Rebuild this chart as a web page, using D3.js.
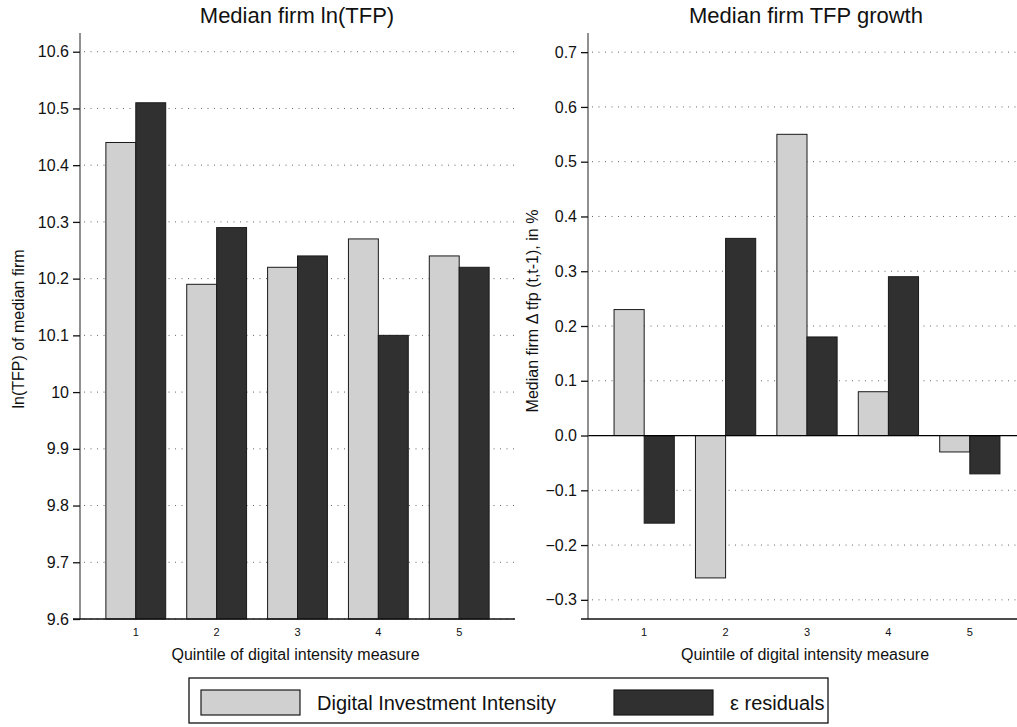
<!DOCTYPE html>
<head>
<meta charset="utf-8">
<style>
    body { margin: 0; background: #fff; }
    text { font-family: Arial, "Liberation Sans", sans-serif; fill: #111; }
</style>
</head>
<body>
<script src="https://d3js.org/d3.v7.min.js"></script>
<script>

// data
const quintiles = ['1', '2', '3', '4', '5'];
const seriesNames = ['Digital Investment Intensity', 'ε residuals'];
const lnTfpDigital = [10.44, 10.19, 10.22, 10.27, 10.24];
const lnTfpResid = [10.51, 10.29, 10.24, 10.10, 10.22];
const growthDigital = [0.23, -0.26, 0.55, 0.08, -0.03];
const growthResid = [-0.16, 0.36, 0.18, 0.29, -0.07];
const leftTicks = [9.6, 9.7, 9.8, 9.9, 10, 10.1, 10.2, 10.3, 10.4, 10.5, 10.6];
const leftTickLabels = ['9.6', '9.7', '9.8', '9.9', '10', '10.1', '10.2', '10.3', '10.4', '10.5', '10.6'];
const rightTicks = [-0.3, -0.2, -0.1, 0, 0.1, 0.2, 0.3, 0.4, 0.5, 0.6, 0.7];

const colors = ['#d0d0d0', '#303030'];

const W = 1017, H = 727;
let svg = d3.select('body').append('svg').attr('width', W).attr('height', H);

function panel(opt) {
    let g = svg.append('g');
    let x = d3.scaleBand().domain(quintiles)
        .range([opt.left, opt.right]).paddingInner(0).paddingOuter(0.19);
    let y = d3.scaleLinear().domain(opt.domain).range([619, 33]);
    let barW = x.step() * 0.37;

    // grid
    g.selectAll('.grid').data(opt.ticks).enter().append('line')
        .attr('x1', opt.left + 4).attr('x2', opt.gridEnd)
        .attr('y1', d => y(d)).attr('y2', d => y(d))
        .attr('stroke', '#666').attr('stroke-width', 1)
        .attr('stroke-dasharray', '1,5.5');

    // bars
    [opt.a, opt.b].forEach((vals, s) => {
        g.selectAll('.bar' + s).data(vals).enter().append('rect')
            .attr('x', (d, i) => x.bandwidth() / 2 + x(quintiles[i]) - (s === 0 ? barW : 0))
            .attr('y', d => y(Math.max(d, opt.base)))
            .attr('width', barW)
            .attr('height', d => Math.abs(y(d) - y(opt.base)))
            .attr('fill', colors[s]).attr('stroke', '#1a1a1a').attr('stroke-width', 1);
    });

    // zero line
    if (opt.base !== opt.domain[0]) {
        g.append('line').attr('x1', opt.left).attr('x2', opt.gridEnd)
            .attr('y1', y(opt.base)).attr('y2', y(opt.base))
            .attr('stroke', '#000').attr('stroke-width', 1.2);
    }

    // y axis
    let yAxis = d3.axisLeft(y).tickValues(opt.ticks).tickSize(7).tickPadding(4)
        .tickFormat(opt.fmt);
    let ya = g.append('g').attr('transform', `translate(${opt.left},0)`).call(yAxis);
    ya.select('.domain').attr('stroke', '#555').attr('stroke-width', 1.3)
        .attr('d', `M0,${y.range()[1]}V${y.range()[0]}`);
    ya.selectAll('.tick line').attr('stroke', '#111').attr('stroke-width', 1.3);
    ya.selectAll('.tick text').style('font-size', '16px').attr('fill', '#111');

    // x axis
    let xa = g.append('g').attr('transform', 'translate(0,619)')
        .call(d3.axisBottom(x).tickSize(0).tickPadding(9));
    xa.select('.domain').attr('stroke', '#111').attr('stroke-width', 1.3)
        .attr('d', `M${opt.left - 7},0H${opt.gridEnd}`);
    xa.selectAll('.tick text').style('font-size', '11px').attr('fill', '#111');

    svg.append('text').attr('x', (opt.left + opt.right) / 2 - 2).attr('y', 660)
        .attr('text-anchor', 'middle').style('font-size', '16px')
        .text('Quintile of digital intensity measure');

    svg.append('text').attr('x', opt.titleX).attr('y', 23)
        .attr('text-anchor', 'middle').style('font-size', '22px').text(opt.title);

    svg.append('text').attr('transform', `translate(${opt.ylabX},${opt.ylabY}) rotate(-90)`)
        .attr('text-anchor', 'middle').style('font-size', '16px').text(opt.ylab);
}

panel({
    left: 80, right: 515, gridEnd: 515, domain: [9.6, 10.633], base: 9.6,
    ticks: leftTicks, fmt: (d, i) => leftTickLabels[i],
    a: lnTfpDigital, b: lnTfpResid,
    title: 'Median firm ln(TFP)', titleX: 297,
    ylab: 'ln(TFP) of median firm', ylabX: 24, ylabY: 329
});

panel({
    left: 588, right: 1026, gridEnd: 1017, domain: [-0.335, 0.735], base: 0,
    ticks: rightTicks, fmt: d3.format('.1f'),
    a: growthDigital, b: growthResid,
    title: 'Median firm TFP growth', titleX: 806,
    ylab: 'Median firm Δ tfp (t,t-1), in %', ylabX: 538, ylabY: 311
});

// legend
let lg = svg.append('g');
lg.append('rect').attr('x', 189).attr('y', 678).attr('width', 639).attr('height', 45)
    .attr('fill', '#fff').attr('stroke', '#111').attr('stroke-width', 1.3);
const legX = [201, 614];
const legTextX = [317, 730];
seriesNames.forEach((name, i) => {
    lg.append('rect').attr('x', legX[i]).attr('y', 690).attr('width', 99).attr('height', 25)
        .attr('fill', colors[i]).attr('stroke', '#1a1a1a').attr('stroke-width', 1.2);
    lg.append('text').attr('x', legTextX[i]).attr('y', 710)
        .style('font-size', '20px').text(name);
});

</script>
</body>
